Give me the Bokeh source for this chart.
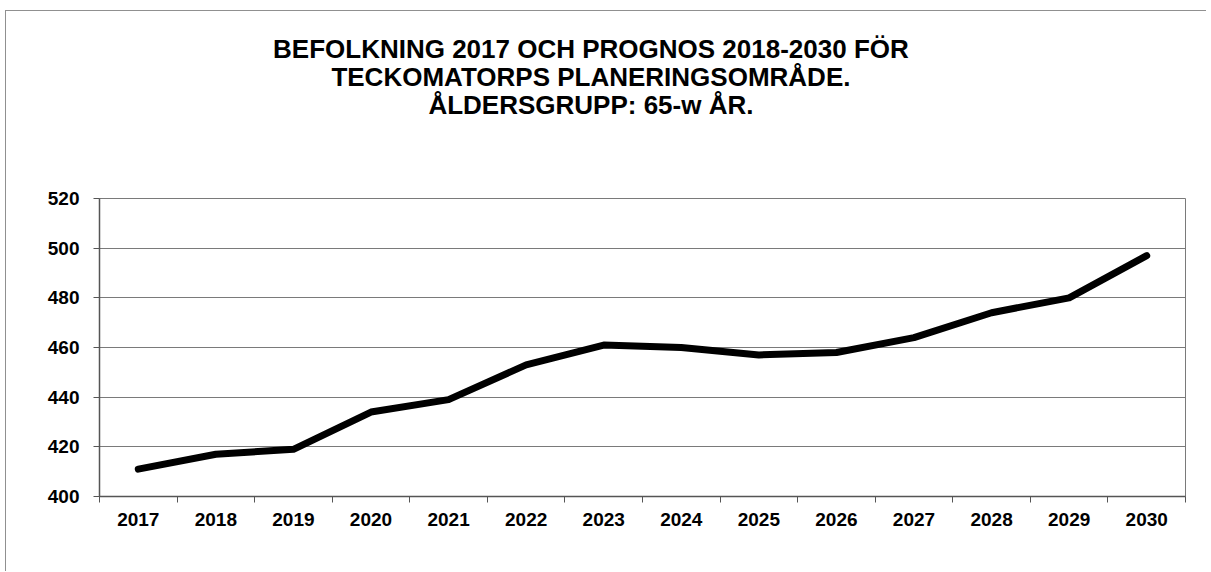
from bokeh.plotting import figure
from bokeh.models import FixedTicker, Range1d
from bokeh.layouts import column
from bokeh.core.properties import value
from bokeh.embed import file_html
from bokeh.resources import INLINE

years = [2017, 2018, 2019, 2020, 2021, 2022, 2023, 2024, 2025, 2026, 2027, 2028, 2029, 2030]
population = [411, 417, 419, 434, 439, 453, 461, 460, 457, 458, 464, 474, 480, 497]
y_ticks = [400, 420, 440, 460, 480, 500, 520]
title_lines = ["BEFOLKNING 2017 OCH PROGNOS 2018-2030 FÖR",
               "TECKOMATORPS PLANERINGSOMRÅDE.",
               "ÅLDERSGRUPP: 65-w ÅR."]

FONT = "Liberation Sans"
GRID = "#7a7a7a"
W = 1200
TH = 172

# ---- title panel (pixel-coordinate canvas) ----
tf = figure(width=W, height=TH, output_backend="svg", toolbar_location=None,
            x_range=Range1d(0, W), y_range=Range1d(0, TH),
            min_border=0, min_border_left=0, min_border_right=0,
            min_border_top=0, min_border_bottom=0)
tf.axis.visible = False
tf.grid.visible = False
tf.outline_line_color = None
tf.background_fill_color = "white"
tf.border_fill_color = "white"
tf.text(x=[543] * 3, y=[135, 107, 79], text=title_lines,
        text_align="center", text_baseline="alphabetic",
        text_font=value(FONT), text_font_size="26px", text_font_style="bold",
        text_color="black")

# ---- main chart ----
p = figure(width=W, height=560 - TH, output_backend="svg", toolbar_location=None,
           x_range=Range1d(years[0] - 0.5, years[-1] + 0.5),
           y_range=Range1d(y_ticks[0], y_ticks[-1]),
           min_border_left=93, min_border_right=21, min_border_top=15, min_border_bottom=75)

p.line(years, population, line_width=7, line_color="black",
       line_cap="round", line_join="round")

p.outline_line_color = GRID
p.outline_line_width = 1
p.background_fill_color = "white"
p.border_fill_color = "white"

p.xgrid.visible = False
p.ygrid.grid_line_color = GRID
p.ygrid.grid_line_width = 1
p.ygrid.ticker = FixedTicker(ticks=y_ticks)

p.yaxis.ticker = FixedTicker(ticks=y_ticks)
p.xaxis.ticker = FixedTicker(ticks=years, minor_ticks=[y - 0.5 for y in years] + [years[-1] + 0.5])

for ax in (p.xaxis[0], p.yaxis[0]):
    ax.axis_line_color = "#555555"
    ax.axis_line_width = 1.5
    ax.major_label_text_font = FONT
    ax.major_label_text_font_style = "bold"
    ax.major_label_text_font_size = "19px"
    ax.major_label_text_color = "black"
    ax.major_tick_line_color = "#555555"

p.yaxis.major_tick_out = 6
p.yaxis.major_tick_in = 0
p.yaxis.minor_tick_line_color = None
p.yaxis.major_label_standoff = 14

p.xaxis.major_tick_out = 0
p.xaxis.major_tick_in = 0
p.xaxis.minor_tick_out = 6
p.xaxis.minor_tick_in = 0
p.xaxis.minor_tick_line_color = "#555555"
p.xaxis.major_label_standoff = 10

layout = column(tf, p, spacing=0,
                styles={"margin-left": "5px", "margin-top": "10px",
                        "border-left": "1px solid #909090", "border-top": "1px solid #909090"})

open("out.html", "w").write(file_html(layout, INLINE))
